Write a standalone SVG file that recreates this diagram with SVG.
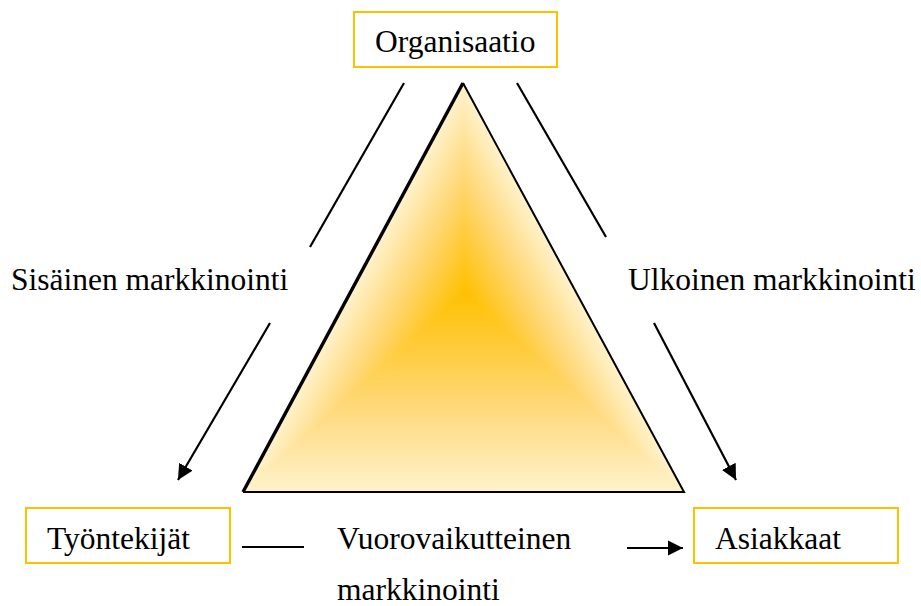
<svg xmlns="http://www.w3.org/2000/svg" width="921" height="606" viewBox="0 0 921 606">
  <style>
    .lbl { font-family: "Liberation Serif", "Times New Roman", serif; font-size: 31.5px; fill: #000; }
    .box { fill: #fff; stroke: #FFC000; stroke-width: 2; }
    .conn { stroke: #000; stroke-width: 2.2; fill: none; }
  </style>
  <defs>
    <marker id="arrow" viewBox="0 0 10 10" refX="10" refY="5" markerWidth="7" markerHeight="7" markerUnits="strokeWidth" orient="auto">
      <path d="M0,0 L10,5 L0,10 z" fill="#000"/>
    </marker>
    <!-- path-style fill: each third of the triangle shades from its edge to the centre -->
    <linearGradient id="gBottom" gradientUnits="userSpaceOnUse" x1="463" y1="492" x2="463" y2="292">
      <stop offset="0" stop-color="#FFF2CC"/>
      <stop offset="0.45" stop-color="#FFD774"/>
      <stop offset="1" stop-color="#FFC000"/>
    </linearGradient>
    <linearGradient id="gLeft" gradientUnits="userSpaceOnUse" x1="376.3" y1="244.3" x2="465" y2="292">
      <stop offset="0" stop-color="#FFF2CC"/>
      <stop offset="0.45" stop-color="#FFD774"/>
      <stop offset="1" stop-color="#FFC000"/>
    </linearGradient>
    <linearGradient id="gRight" gradientUnits="userSpaceOnUse" x1="550.9" y1="245.6" x2="465" y2="292">
      <stop offset="0" stop-color="#FFF2CC"/>
      <stop offset="0.45" stop-color="#FFD774"/>
      <stop offset="1" stop-color="#FFC000"/>
    </linearGradient>
    <clipPath id="triClip">
      <polygon points="463,83 243,492 684,492"/>
    </clipPath>
  </defs>

  <!-- central triangle -->
  <g id="triangle">
    <g clip-path="url(#triClip)">
      <polygon points="243,492 684,492 465,292" fill="url(#gBottom)" stroke="url(#gBottom)" stroke-width="1"/>
      <polygon points="463,83 243,492 465,292" fill="url(#gLeft)" stroke="url(#gLeft)" stroke-width="1"/>
      <polygon points="463,83 684,492 465,292" fill="url(#gRight)" stroke="url(#gRight)" stroke-width="1"/>
    </g>
    <polyline points="243,492 684,492 463,83" fill="none" stroke="#000" stroke-width="2"/>
    <line x1="463" y1="83" x2="243" y2="492" stroke="#000" stroke-width="3.4"/>
  </g>

  <!-- nodes -->
  <g id="organisaatio">
    <rect class="box" x="354" y="12" width="203" height="55"/>
    <text class="lbl" x="375" y="52">Organisaatio</text>
  </g>
  <g id="tyontekijat">
    <rect class="box" x="26" y="508" width="204" height="55"/>
    <text class="lbl" x="47" y="549">Työntekijät</text>
  </g>
  <g id="asiakkaat">
    <rect class="box" x="694" y="508" width="204" height="55"/>
    <text class="lbl" x="715" y="549">Asiakkaat</text>
  </g>

  <!-- connectors -->
  <g id="connectors">
    <line class="conn" x1="404" y1="83" x2="310" y2="247"/>
    <line class="conn" x1="270" y1="323" x2="178" y2="480" marker-end="url(#arrow)"/>
    <line class="conn" x1="517" y1="83" x2="606" y2="237"/>
    <line class="conn" x1="654" y1="323" x2="736" y2="480" marker-end="url(#arrow)"/>
    <line class="conn" x1="242" y1="547" x2="304" y2="547"/>
    <line class="conn" x1="627" y1="548" x2="683" y2="548" marker-end="url(#arrow)"/>
  </g>

  <!-- connector labels -->
  <g id="labels">
    <text class="lbl" x="11" y="290">Sisäinen markkinointi</text>
    <text class="lbl" x="628" y="290">Ulkoinen markkinointi</text>
    <text class="lbl" x="337" y="549">Vuorovaikutteinen</text>
    <text class="lbl" x="337" y="600">markkinointi</text>
  </g>
</svg>
